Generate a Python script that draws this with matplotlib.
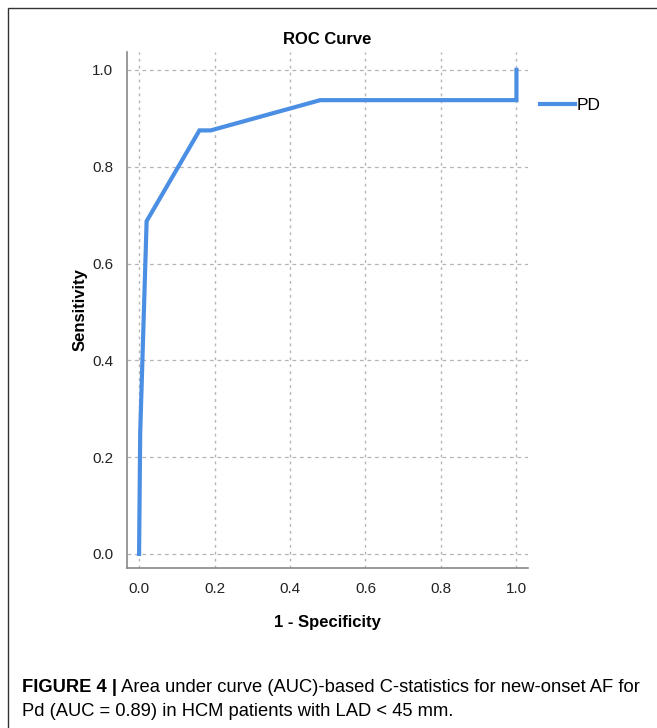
import matplotlib
matplotlib.use("Agg")
import matplotlib.pyplot as plt
from matplotlib.patches import Rectangle

# ROC points (1 - specificity vs sensitivity)
fpr = [0.0, 0.0, 0.003, 0.02, 0.16, 0.19, 0.48, 1.0, 1.0]
tpr = [0.0, 0.0, 0.25, 0.6875, 0.875, 0.875, 0.9375, 0.9375, 1.0]
ticks = [0.0, 0.2, 0.4, 0.6, 0.8, 1.0]
tick_labels = ["0.0", "0.2", "0.4", "0.6", "0.8", "1.0"]
series_name = "PD"
caption_bold = "FIGURE 4 |"
caption_1 = " Area under curve (AUC)-based C-statistics for new-onset AF for"
caption_2 = "Pd (AUC = 0.89) in HCM patients with LAD < 45 mm."

plt.rcParams['font.family'] = ['Liberation Sans', 'DejaVu Sans']

fig = plt.figure(figsize=(6.57, 7.28), dpi=100)
ax = fig.add_axes([0.1933, 0.2198, 0.610, 0.7088])

blue = '#4a8fe3'
line, = ax.plot(fpr, tpr, color=blue, lw=3.0, solid_joinstyle='miter', label=series_name)

ax.set_xlim(-0.032, 1.03)
ax.set_ylim(-0.029, 1.037)
ax.set_xticks(ticks)
ax.set_xticklabels(tick_labels)
ax.set_yticks(ticks)
ax.set_yticklabels(tick_labels)
ax.tick_params(length=0, labelsize=11, colors='#222222', pad=10)
ax.xaxis.grid(True, color='#b5b5b5', linestyle=(0, (2, 3)), lw=1.0)
ax.yaxis.grid(True, color='#b5b5b5', linestyle=(0, (3, 3)), lw=0.9)
for s in ['top', 'right']:
    ax.spines[s].set_visible(False)
for s in ['left', 'bottom']:
    ax.spines[s].set_color('#888888')
    ax.spines[s].set_linewidth(1.2)

ax.set_title("ROC Curve", fontsize=12, fontweight='bold', pad=6)
ax.set_xlabel("1 - Specificity", fontsize=12, fontweight='bold', labelpad=14)
ax.set_ylabel("Sensitivity", fontsize=12, fontweight='bold', labelpad=3)

leg = ax.legend(handles=[line], loc='upper left', bbox_to_anchor=(1.0, 0.935),
                frameon=False, fontsize=12.5, handlelength=2.0, handletextpad=0.1,
                borderaxespad=0.3)

# outer frame around figure and caption
fig.patches.append(Rectangle((8 / 657, -0.01), 1.0, (728 - 8) / 728 + 0.01,
                             transform=fig.transFigure, fill=False,
                             edgecolor='#333333', lw=1.0))

# caption with bold lead
t1 = fig.text(22 / 657, 1 - 688 / 728, caption_bold, fontsize=13.2,
              fontweight='bold', va='center', ha='left')
fig.canvas.draw()
bb = t1.get_window_extent(renderer=fig.canvas.get_renderer())
x_next = bb.x1 / fig.bbox.width
fig.text(x_next, 1 - 688 / 728, caption_1, fontsize=13.2, va='center', ha='left')
fig.text(22 / 657, 1 - 712 / 728, caption_2, fontsize=13.2, va='center', ha='left')

fig.savefig("out.png", dpi=100)
